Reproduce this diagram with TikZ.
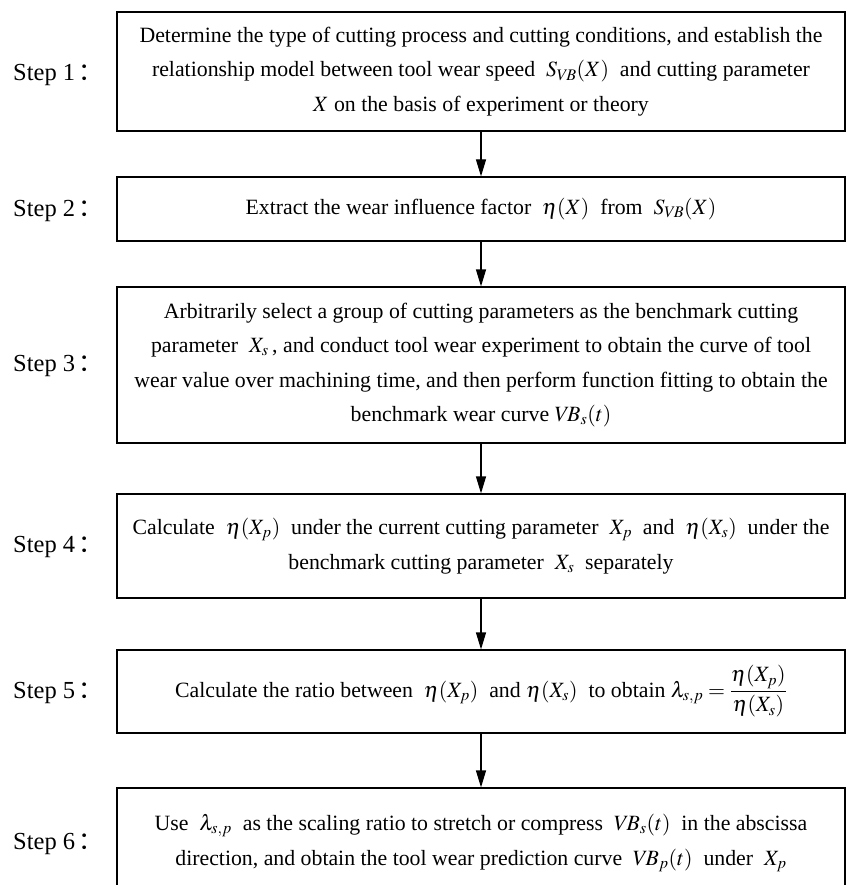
\documentclass[tikz,border=0pt]{standalone}
\usepackage{mathptmx}
\usepackage[no-math]{fontspec}
\setmainfont{Liberation Serif}
\newfontfamily\cjk{Noto Sans CJK SC}
\usetikzlibrary{arrows.meta}
\newcommand{\boxfont}{\fontsize{21.8}{34.5}\selectfont}
\newcommand{\labelfont}{\fontsize{24.5}{28}\selectfont}
\newcommand{\fcolon}{\kern3pt{\cjk ：}}
\tikzset{
  stepbox/.style={draw, line width=1.2pt, minimum width=728pt, inner sep=0pt, align=center, font=\boxfont},
  steplabel/.style={anchor=west, inner sep=0pt, font=\labelfont},
  flow/.style={-{Triangle[length=17pt,width=10pt]}, line width=1.2pt}
}
\begin{document}
\begin{tikzpicture}[x=1pt,y=-1pt]
\useasboundingbox (0,0) rectangle (846,885);
\clip (0,0) rectangle (846,885);
\fill[white] (0,0) rectangle (846,885);

\node[stepbox, minimum height=119pt] (b1) at (481,71.5) {Determine the type of cutting process and cutting conditions, and establish the\\ relationship model between tool wear speed\ \ $S_{V\!B}(X)$\ \ and cutting parameter\\ $X$ on the basis of experiment or theory};
\node[stepbox, minimum height=64pt] (b2) at (481,209) {Extract the wear influence factor\ \ $\eta(X)$\ \ from\ \ $S_{V\!B}(X)$};
\node[stepbox, minimum height=156pt] (b3) at (481,365) {Arbitrarily select a group of cutting parameters as the benchmark cutting\\ parameter\ \ $X_s$\,, and conduct tool wear experiment to obtain the curve of tool\\ wear value over machining time, and then perform function fitting to obtain the\\ benchmark wear curve\ $V\!B_s(t)$};
\node[stepbox, minimum height=104pt] (b4) at (481,546) {Calculate\ \ $\eta(X_p)$\ \ under the current cutting parameter\ \ $X_p$\ \ and\ \ $\eta(X_s)$\ \ under the\\ benchmark cutting parameter\ \ $X_s$\ \ separately};
\node[stepbox, minimum height=83pt] (b5) at (481,691.5) {Calculate the ratio between\ \ $\eta(X_p)$\ \ and $\eta(X_s)$\ \ to obtain $\lambda_{s,p}=\displaystyle\frac{\eta(X_p)}{\eta(X_s)}$};
\node[stepbox, minimum height=110pt] (b6) at (481,843) {Use\ \ $\lambda_{s,p}$\ \ as the scaling ratio to stretch or compress\ \ $V\!B_s(t)$\ \ in the abscissa\\ direction, and obtain the tool wear prediction curve\ \ $V\!B_p(t)$\ \ under\ \ $X_p$};

\node[steplabel] (l1) at (13,75) {Step 1\fcolon};
\node[steplabel] (l2) at (13,211) {Step 2\fcolon};
\node[steplabel] (l3) at (13,366) {Step 3\fcolon};
\node[steplabel] (l4) at (13,547) {Step 4\fcolon};
\node[steplabel] (l5) at (13,693) {Step 5\fcolon};
\node[steplabel] (l6) at (13,844) {Step 6\fcolon};

\draw[flow] (b1) -- (b2);
\draw[flow] (b2) -- (b3);
\draw[flow] (b3) -- (b4);
\draw[flow] (b4) -- (b5);
\draw[flow] (b5) -- (b6);
\end{tikzpicture}
\end{document}
